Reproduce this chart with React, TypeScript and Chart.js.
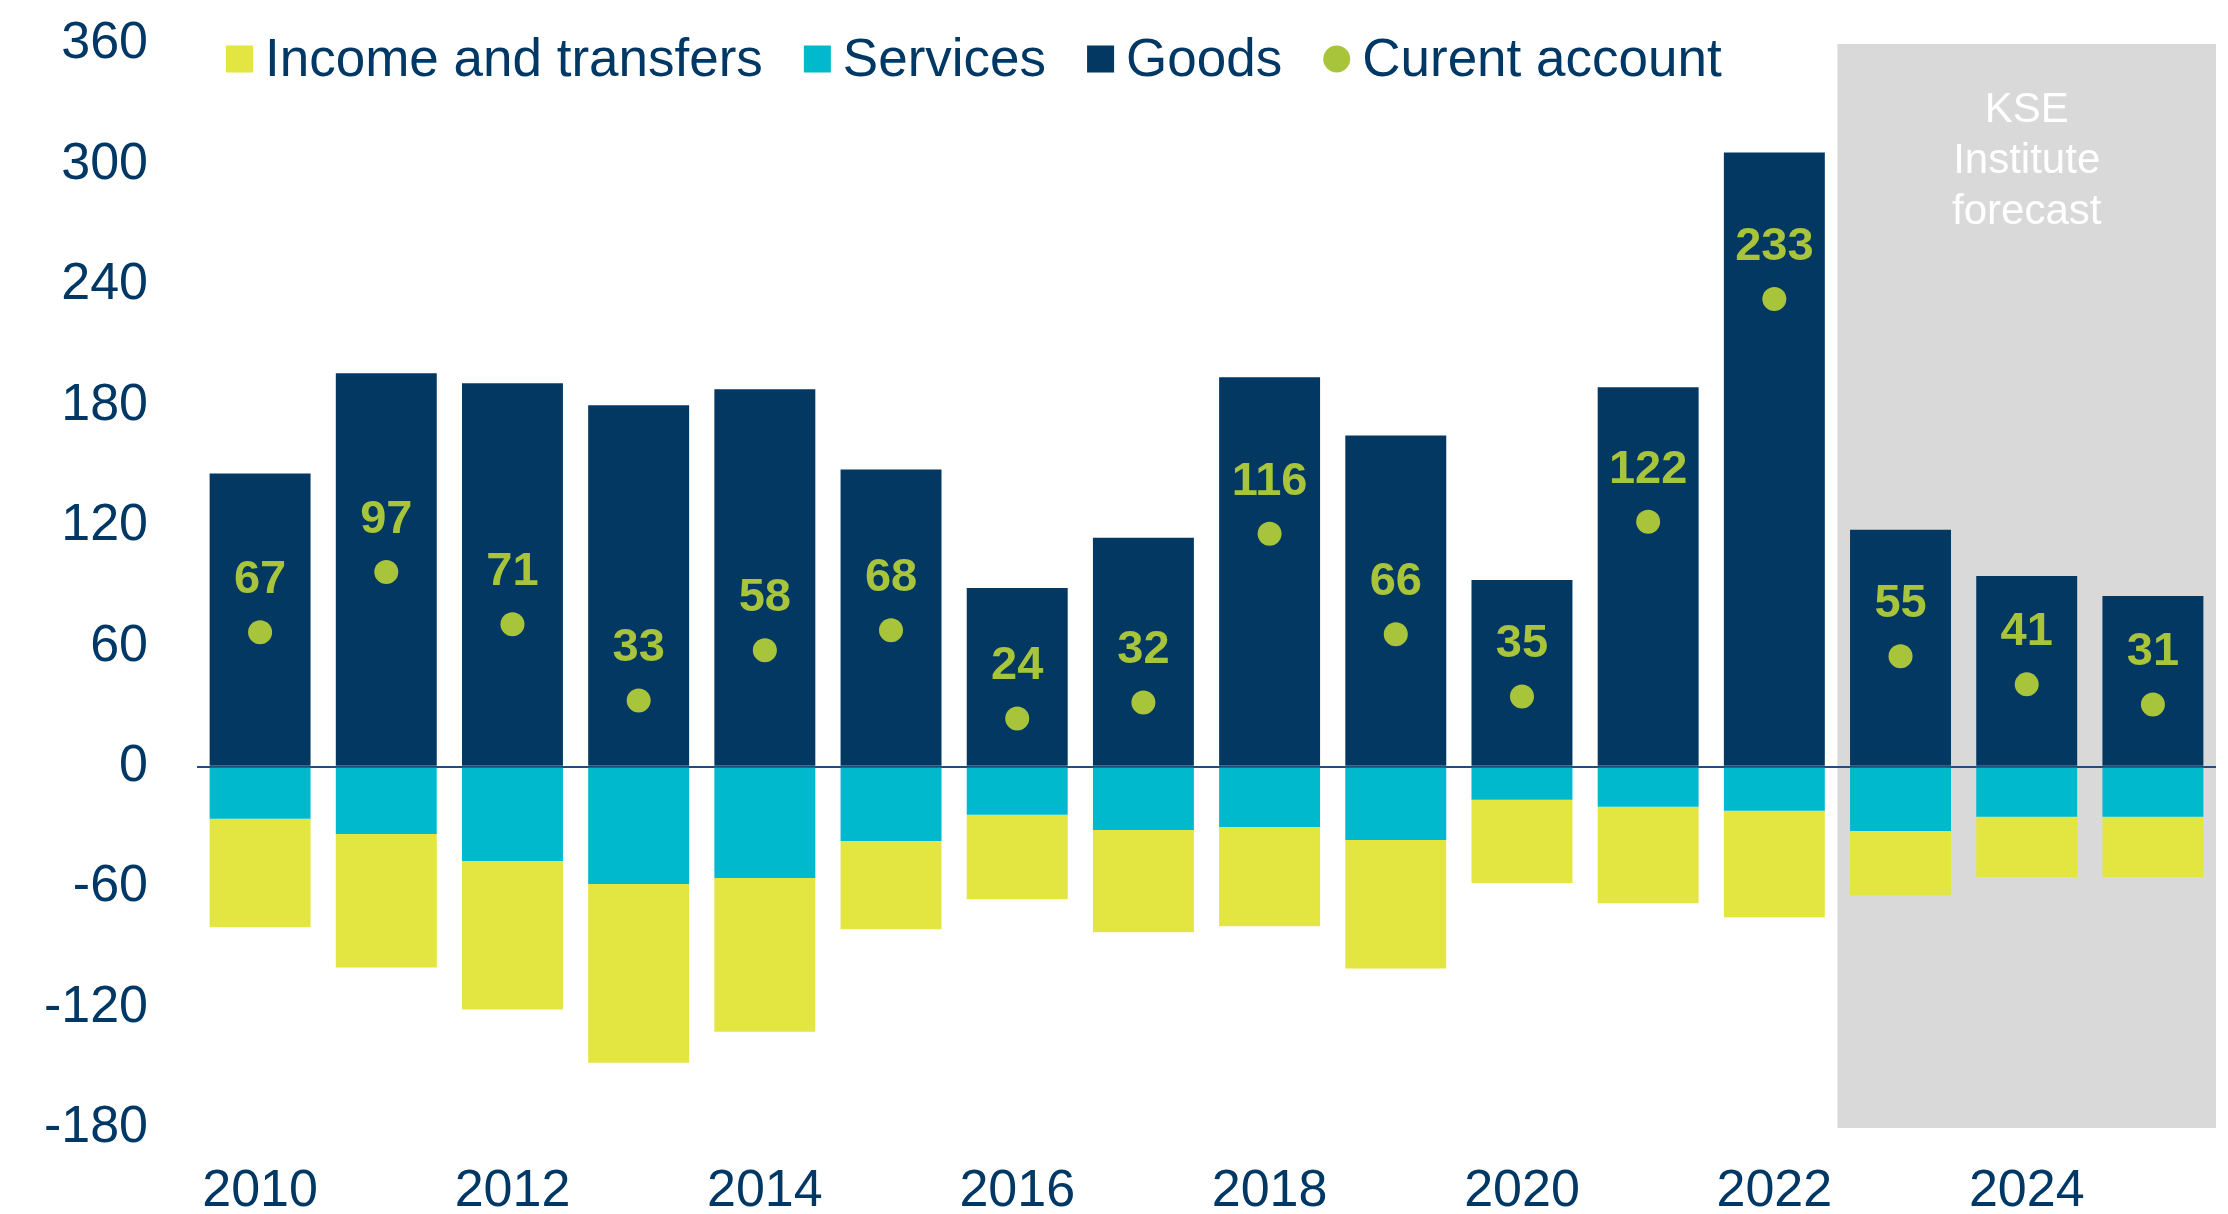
import React, { useEffect, useRef } from "react";
import { Chart, registerables } from "chart.js";

Chart.register(...registerables);

const years = ["2010", "2011", "2012", "2013", "2014", "2015", "2016", "2017", "2018", "2019", "2020", "2021", "2022", "2023", "2024", "2025"];
const goods = [146, 196, 191, 180, 188, 148, 89, 114, 194, 165, 93, 189, 306, 118, 95, 85];
const services = [-26, -33.5, -47, -58.5, -55.5, -37, -24, -31.5, -30, -36.5, -16.5, -20, -22, -32, -25, -25];
const income = [-54, -66.5, -74, -89, -76.5, -44, -42, -51, -49.5, -64, -41.5, -48, -53, -32, -30, -30];
const currentAccount = [67, 97, 71, 33, 58, 68, 24, 32, 116, 66, 35, 122, 233, 55, 41, 31];
const forecastStartIndex = 13;
const forecastLines = ["KSE", "Institute", "forecast"];

const NAVY = "#003865";
const GOODS = "#023862";
const SERVICES = "#00b9cc";
const INCOME = "#e3e541";
const CA = "#a8c43b";
const FONT = "'Liberation Sans', Arial, sans-serif";

const legendItems = [
  { label: "Income and transfers", color: INCOME, shape: "rect" },
  { label: "Services", color: SERVICES, shape: "rect" },
  { label: "Goods", color: GOODS, shape: "rect" },
  { label: "Curent account", color: CA, shape: "circle" },
];

const forecastPlugin = {
  id: "forecastBg",
  beforeDraw(chart: any) {
    const { ctx, chartArea, scales } = chart;
    const x = scales.x;
    const start = (x.getPixelForValue(forecastStartIndex - 1) + x.getPixelForValue(forecastStartIndex)) / 2;
    ctx.save();
    ctx.fillStyle = "#d9d9d9";
    ctx.fillRect(start, chartArea.top, chartArea.right - start, chartArea.bottom - chartArea.top);
    ctx.fillStyle = "#ffffff";
    ctx.font = `42px ${FONT}`;
    ctx.textAlign = "center";
    ctx.textBaseline = "middle";
    const cx = (start + chartArea.right) / 2;
    forecastLines.forEach((t, i) => {
      ctx.fillText(t, cx, chartArea.top + 66 + i * 51);
    });
    ctx.restore();
  },
};

const labelPlugin = {
  id: "caLabels",
  afterDatasetsDraw(chart: any) {
    const { ctx } = chart;
    const meta = chart.getDatasetMeta(3);
    ctx.save();
    ctx.fillStyle = CA;
    ctx.font = `bold 47px ${FONT}`;
    ctx.textAlign = "center";
    ctx.textBaseline = "middle";
    meta.data.forEach((pt: any, i: number) => {
      ctx.fillText(String(currentAccount[i]), pt.x, pt.y - 52);
    });
    ctx.restore();
  },
};

const legendPlugin = {
  id: "customLegend",
  afterDraw(chart: any) {
    const { ctx } = chart;
    ctx.save();
    ctx.font = `53px ${FONT}`;
    ctx.textBaseline = "middle";
    ctx.textAlign = "left";
    let x = 226;
    const cy = 59;
    const box = 27;
    legendItems.forEach((item) => {
      ctx.fillStyle = item.color;
      if (item.shape === "rect") {
        ctx.fillRect(x, cy - box / 2, box, box);
      } else {
        ctx.beginPath();
        ctx.arc(x + box / 2, cy, box / 2, 0, Math.PI * 2);
        ctx.fill();
      }
      const tx = x + 39;
      ctx.fillStyle = NAVY;
      ctx.fillText(item.label, tx, cy + 2);
      x = tx + ctx.measureText(item.label).width + 41;
    });
    ctx.restore();
  },
};

export default function App() {
  const ref = useRef<HTMLCanvasElement>(null);
  useEffect(() => {
    if (!ref.current) return;
    const chart = new Chart(ref.current, {
      type: "bar",
      data: {
        labels: years,
        datasets: [
          { type: "bar", label: "Goods", data: goods, backgroundColor: GOODS, stack: "bars", order: 1, categoryPercentage: 0.8, barPercentage: 1 } as any,
          { type: "bar", label: "Services", data: services, backgroundColor: SERVICES, stack: "bars", order: 1, categoryPercentage: 0.8, barPercentage: 1 } as any,
          { type: "bar", label: "Income and transfers", data: income, backgroundColor: INCOME, stack: "bars", order: 1, categoryPercentage: 0.8, barPercentage: 1 } as any,
          { type: "line", label: "Curent account", data: currentAccount, stack: "ca", order: 0, showLine: false, pointRadius: 12, pointHoverRadius: 12, pointBackgroundColor: CA, pointBorderWidth: 0, borderColor: CA, backgroundColor: CA } as any,
        ],
      },
      options: {
        responsive: false,
        animation: false,
        devicePixelRatio: 1,
        layout: { padding: { top: 44, right: -6, left: 0, bottom: 0 } },
        plugins: { legend: { display: false }, tooltip: { enabled: false } },
        scales: {
          x: {
            stacked: true,
            grid: { display: false },
            border: { display: false },
            afterFit: (s: any) => { s.height = 86; s.paddingLeft = 0; s.paddingRight = 0; },
            ticks: {
              autoSkip: false,
              maxRotation: 0,
              padding: 24,
              color: NAVY,
              font: { size: 52, family: FONT },
              callback: (_v: any, i: number) => (i % 2 === 0 ? years[i] : ""),
            },
          },
          y: {
            stacked: true,
            min: -180,
            max: 360,
            z: 1,
            border: { display: false },
            afterFit: (s: any) => { s.width = 197; s.paddingTop = 0; s.paddingBottom = 0; },
            grid: {
              drawTicks: false,
              lineWidth: 2,
              color: (c: any) => (c.tick && c.tick.value === 0 ? "#1f4f7d" : "rgba(0,0,0,0)"),
            },
            ticks: {
              stepSize: 60,
              padding: 49,
              color: NAVY,
              font: { size: 52, family: FONT },
            },
          },
        },
      },
      plugins: [forecastPlugin, labelPlugin, legendPlugin],
    });
    return () => chart.destroy();
  }, []);
  return (
    <div style={{ position: "absolute", left: 0, top: 0, width: 2228, height: 1214, background: "#fff" }}>
      <canvas ref={ref} width={2228} height={1214} style={{ width: 2228, height: 1214, display: "block" }} />
    </div>
  );
}
